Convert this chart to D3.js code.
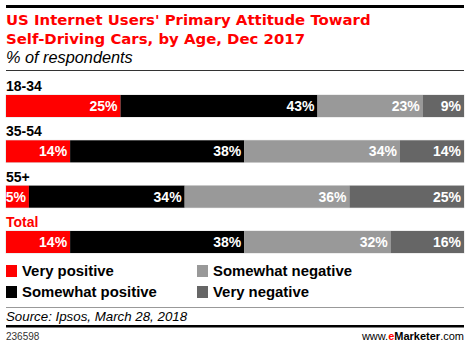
<!DOCTYPE html>
<html>
<head>
<meta charset="utf-8">
<script src="https://cdn.jsdelivr.net/npm/d3@7"></script>
<style>
  body { margin: 0; background: #fff; }
  svg { display: block; font-family: Arial, "Liberation Sans", sans-serif; }
</style>
</head>
<body>
<div id="chart"></div>
<script>
// Data
const groups = ['18-34', '35-54', '55+', 'Total'];
const series = ['Very positive', 'Somewhat positive', 'Somewhat negative', 'Very negative'];
const veryPositive = [25, 14, 5, 14];
const somewhatPositive = [43, 38, 34, 38];
const somewhatNegative = [23, 34, 36, 32];
const veryNegative = [9, 14, 25, 16];
const colors = ['#ff0000', '#000000', '#999999', '#666666'];

const width = 470, height = 348;
const left = 6, right = 464;

const svg = d3.select('#chart').append('svg')
    .attr('width', width)
    .attr('height', height);

// Header
svg.append('rect').attr('x', left).attr('y', 5).attr('width', right - left).attr('height', 3).attr('fill', '#000');

svg.append('text').attr('x', left).attr('y', 25)
    .style('font-family', '"DejaVu Sans", Verdana, sans-serif')
    .style('font-size', '14.9px').style('font-weight', 'bold').style('fill', '#ff0000')
    .text("US Internet Users' Primary Attitude Toward");
svg.append('text').attr('x', left).attr('y', 44)
    .style('font-family', '"DejaVu Sans", Verdana, sans-serif')
    .style('font-size', '14.9px').style('font-weight', 'bold').style('fill', '#ff0000')
    .text('Self-Driving Cars, by Age, Dec 2017');
svg.append('text').attr('x', left).attr('y', 63)
    .style('font-size', '16.3px').style('font-style', 'italic').style('fill', '#000')
    .text('% of respondents');

svg.append('line').attr('x1', left).attr('x2', right).attr('y1', 70.5).attr('y2', 70.5)
    .attr('stroke', '#333').attr('stroke-width', 1);

// Stack data
const rows = groups.map((g, i) => ({
    group: g,
    'Very positive': veryPositive[i],
    'Somewhat positive': somewhatPositive[i],
    'Somewhat negative': somewhatNegative[i],
    'Very negative': veryNegative[i]
}));
const stacked = d3.stack().keys(series)(rows);

const x = d3.scaleLinear().domain([0, 100]).range([left, right]);
const rowTop = d3.scalePoint().domain(groups).range([95, 231]);
const barHeight = 22;

const color = d3.scaleOrdinal().domain(series).range(colors);

// Row labels
svg.append('g').selectAll('text')
    .data(groups)
    .enter()
    .append('text')
    .attr('x', left)
    .attr('y', d => rowTop(d) - 4)
    .style('font-size', '14px')
    .style('font-weight', 'bold')
    .style('fill', d => d === 'Total' ? '#ff0000' : '#000')
    .text(d => d);

// Bar backgrounds (light border)
svg.append('g').selectAll('rect')
    .data(groups)
    .enter()
    .append('rect')
    .attr('x', x(0) - 0.5)
    .attr('y', d => rowTop(d) - 0.5)
    .attr('width', x(100) - x(0) + 1)
    .attr('height', barHeight + 1)
    .attr('fill', '#ddd');

const layers = svg.append('g').selectAll('g')
    .data(stacked)
    .enter()
    .append('g')
    .attr('fill', d => color(d.key));

layers.selectAll('rect')
    .data(d => d)
    .enter()
    .append('rect')
    .attr('x', d => x(d[0]))
    .attr('y', d => rowTop(d.data.group))
    .attr('width', d => x(d[1]) - x(d[0]))
    .attr('height', barHeight);

layers.selectAll('text')
    .data(d => d)
    .enter()
    .append('text')
    .attr('x', d => x(d[1]) - 3)
    .attr('y', d => rowTop(d.data.group) + barHeight / 2 + 5)
    .attr('text-anchor', 'end')
    .style('font-size', '14px')
    .style('font-weight', 'bold')
    .style('fill', '#fff')
    .text(d => (d[1] - d[0]) + '%');

// Legend
const legendX = d3.scaleOrdinal().domain([0, 1]).range([left, 197]);
const legendY = d3.scaleOrdinal().domain([0, 1]).range([265, 286]);
const legend = svg.append('g').selectAll('g')
    .data(series)
    .enter()
    .append('g')
    .attr('transform', (d, i) => `translate(${legendX(Math.floor(i / 2))}, ${legendY(i % 2)})`);

legend.append('rect')
    .attr('width', 11)
    .attr('height', 12)
    .attr('fill', d => color(d));

legend.append('text')
    .attr('x', 16)
    .attr('y', 11)
    .style('font-size', '14.9px')
    .style('font-weight', 'bold')
    .style('fill', '#000')
    .text(d => d);

// Footer
svg.append('line').attr('x1', left).attr('x2', right).attr('y1', 307.5).attr('y2', 307.5)
    .attr('stroke', '#999').attr('stroke-width', 1);

svg.append('text').attr('x', left).attr('y', 321)
    .style('font-size', '13.3px').style('font-style', 'italic').style('fill', '#000')
    .text('Source: Ipsos, March 28, 2018');

svg.append('rect').attr('x', left).attr('y', 325).attr('width', right - left).attr('height', 2.5).attr('fill', '#000');

svg.append('text').attr('x', left).attr('y', 340)
    .style('font-size', '10px').style('fill', '#333')
    .text('236598');

const brand = svg.append('text').attr('x', right).attr('y', 340)
    .attr('text-anchor', 'end')
    .style('font-size', '11px').style('fill', '#000');
brand.append('tspan').text('www.');
brand.append('tspan').style('fill', '#ff0000').style('font-weight', 'bold').text('e');
brand.append('tspan').style('font-weight', 'bold').text('Marketer');
brand.append('tspan').text('.com');
</script>
</body>
</html>
